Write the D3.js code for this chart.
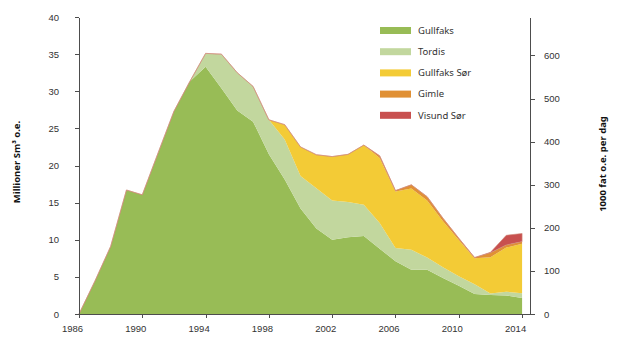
<!DOCTYPE html>
<html lang="no">
<head>
<meta charset="utf-8">
<title>Gullfaks produksjon</title>
<script src="https://cdn.jsdelivr.net/npm/d3@7"></script>
<style>
  body { margin: 0; background: #fff; }
  svg { font-family: "Noto Sans", sans-serif; }
  .axis path, .axis line { stroke: #4d4d4d; shape-rendering: crispEdges; }
  .axis text { font-size: 9.5px; fill: #333; }
  .legend text { font-size: 9.5px; fill: #333; }
  .title { font-size: 9.5px; font-weight: bold; fill: #111; }
</style>
</head>
<body>
<script>
// data (millioner Sm3 o.e. per år)
var years = [1986, 1987, 1988, 1989, 1990, 1991, 1992, 1993, 1994, 1995, 1996, 1997, 1998, 1999, 2000,
             2001, 2002, 2003, 2004, 2005, 2006, 2007, 2008, 2009, 2010, 2011, 2012, 2013, 2014];
var gullfaks = [0, 4.4, 9.1, 16.7, 16.05, 21.7, 27.3, 31.3, 33.3, 30.4, 27.4, 25.9, 21.5, 18.1, 14.2,
                11.5, 10.0, 10.35, 10.5, 8.8, 7.1, 5.95, 5.95, 4.85, 3.8, 2.7, 2.55, 2.5, 2.15];
var tordis = [0, 0, 0, 0, 0, 0, 0, 0, 1.8, 4.6, 5.1, 4.75, 4.65, 5.4, 4.4,
              5.45, 5.3, 4.75, 4.2, 3.45, 1.8, 2.7, 1.65, 1.45, 1.3, 1.3, 0.2, 0.5, 0.65];
var gullfaksSor = [0, 0, 0, 0, 0, 0, 0, 0, 0, 0, 0, 0, 0, 2.0, 3.9,
                   4.5, 5.9, 6.4, 8.05, 8.75, 7.6, 8.25, 7.7, 6.2, 4.85, 3.5, 4.9, 5.95, 6.65];
var gimle = [0, 0, 0, 0, 0, 0, 0, 0, 0, 0, 0, 0, 0, 0, 0,
             0, 0, 0, 0, 0.3, 0.12, 0.5, 0.5, 0.4, 0.25, 0.1, 0.6, 0.35, 0.3];
var visundSor = [0, 0, 0, 0, 0, 0, 0, 0, 0, 0, 0, 0, 0, 0, 0,
                 0, 0, 0, 0, 0, 0, 0, 0, 0, 0, 0, 0.05, 1.3, 1.1];

var seriesNames = ["Gullfaks", "Tordis", "Gullfaks Sør", "Gimle", "Visund Sør"];
var seriesValues = [gullfaks, tordis, gullfaksSor, gimle, visundSor];
var colors = ["#98bc56", "#c2d79e", "#f3cb36", "#e09035", "#c8504f"];

var xTicks = [1986, 1990, 1994, 1998, 2002, 2006, 2010, 2014];
var yTicks = [0, 5, 10, 15, 20, 25, 30, 35, 40];
var y2Ticks = [0, 100, 200, 300, 400, 500, 600];

var w = 623, h = 350;

// table for d3.stack
var table = years.map(function (yr, i) {
  var row = { year: yr };
  seriesNames.forEach(function (n, k) { row[n] = seriesValues[k][i]; });
  return row;
});

var x = d3.scaleLinear().domain([1986, 2014.5]).range([79, 530]);
var y = d3.scaleLinear().domain([0, 40]).range([314, 17]);
// 1 mill Sm3 per år = 6.29 mill fat / 365 dager
var y2 = d3.scaleLinear().domain([0, 40 * 6.29 / 0.365]).range([314, 17]);

var svg = d3.select("body").append("svg")
  .attr("width", w)
  .attr("height", h);

var stack = d3.stack().keys(seriesNames);
var layers = stack(table);

var area = d3.area()
  .x(function (d) { return x(d.data.year); })
  .y0(function (d) { return y(d[0]); })
  .y1(function (d) { return y(d[1]); });

svg.append("g").selectAll("path")
  .data(layers)
  .enter().append("path")
  .attr("fill", function (d, i) { return colors[i]; })
  .attr("stroke", function (d, i) { return i == layers.length - 1 ? "#d08a78" : "none"; })
  .attr("stroke-width", 0.6)
  .attr("d", area);

// axes
svg.append("g")
  .attr("class", "axis")
  .attr("transform", "translate(0," + y(0) + ")")
  .call(d3.axisBottom(x).tickValues(xTicks).tickFormat(d3.format("d"))
    .tickSize(4).tickSizeOuter(0).tickPadding(7))
  .selectAll("text").attr("dx", -7);

svg.append("g")
  .attr("class", "axis")
  .attr("transform", "translate(" + x(1986) + ",0)")
  .call(d3.axisLeft(y).tickValues(yTicks).tickSize(4).tickSizeOuter(0).tickPadding(16));

svg.append("g")
  .attr("class", "axis")
  .attr("transform", "translate(" + x(2014.5) + ",0)")
  .call(d3.axisRight(y2).tickValues(y2Ticks).tickSize(5).tickSizeOuter(0).tickPadding(9));

// axis titles
svg.append("text")
  .attr("class", "title")
  .attr("text-anchor", "middle")
  .attr("transform", "translate(20,162) rotate(-90)")
  .text("Millioner Sm³ o.e.");

svg.append("text")
  .attr("class", "title")
  .attr("text-anchor", "middle")
  .attr("transform", "translate(606,164) rotate(-90)")
  .text("1000 fat o.e. per dag");

// legend
var legend = svg.append("g")
  .attr("class", "legend")
  .attr("transform", "translate(380,27)");

var item = legend.selectAll("g")
  .data(seriesNames)
  .enter().append("g")
  .attr("transform", function (d, i) { return "translate(0," + (i * 21.2) + ")"; });

item.append("rect")
  .attr("width", 31)
  .attr("height", 7)
  .attr("fill", function (d, i) { return colors[i]; });

item.append("text")
  .attr("x", 38)
  .attr("y", 3.5)
  .attr("dy", "0.35em")
  .text(function (d) { return d; });
</script>
</body>
</html>
